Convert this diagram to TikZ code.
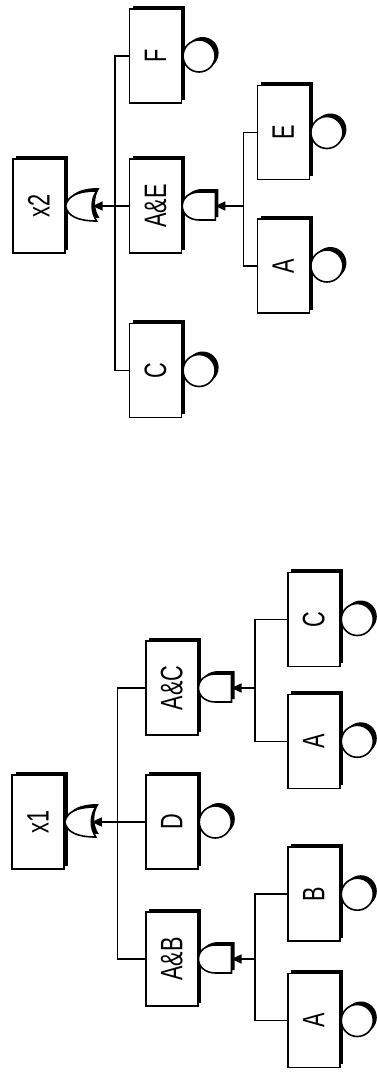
\documentclass[tikz,border=0pt]{standalone}
\usepackage{fontspec}
\setmainfont{Liberation Sans}
\usetikzlibrary{arrows.meta,shadows,calc}
\newcommand\evlabel[1]{\rotatebox{90}{\scalebox{0.7}[1]{#1}}}
\begin{document}
\begin{tikzpicture}[x=1pt,y=-1pt,
  evbox/.style={draw, fill=white, line width=1.6pt, inner sep=0pt,
    minimum width=52pt, minimum height=94pt,
    font=\fontsize{31}{34}\selectfont,
    drop shadow={shadow xshift=3.5pt, shadow yshift=3.5pt, fill=black, opacity=1}},
  basic/.style={circle, draw, fill=white, line width=1.6pt, inner sep=0pt,
    minimum size=32pt, anchor=west,
    drop shadow={shadow xshift=3.5pt, shadow yshift=3pt, fill=black, opacity=1}},
  conn/.style={line width=1.5pt},
  arr/.style={line width=1.5pt, -{Triangle[length=10pt,width=9pt]}},
  orgate/.pic={
    \fill[black, shift={(3,-3)}] (0,0) .. controls (2,-10) and (12,-15) .. (31,-15)
      .. controls (25,-6) and (25,6) .. (31,15)
      .. controls (12,15) and (2,10) .. (0,0) -- cycle;
    \filldraw[fill=white, line width=1.6pt] (0,0) .. controls (2,-10) and (12,-15) .. (31,-15)
      .. controls (25,-6) and (25,6) .. (31,15)
      .. controls (12,15) and (2,10) .. (0,0) -- cycle;
    \coordinate (-in) at (27,0);
  },
  andgate/.pic={
    \fill[black, shift={(3,-3)}] (33,-14) -- (17,-14) .. controls (7,-14) and (0,-8) .. (0,0)
      .. controls (0,8) and (7,14) .. (17,14) -- (33,14) -- cycle;
    \filldraw[fill=white, line width=1.6pt] (33,-14) -- (17,-14) .. controls (7,-14) and (0,-8) .. (0,0)
      .. controls (0,8) and (7,14) .. (17,14) -- (33,14) -- cycle;
    \coordinate (-in) at (33,0);
  }]
\useasboundingbox (0,0) rectangle (377,1072);

% ---- tree x2 ----
\node[evbox] (X2) at (38.8,206) {\evlabel{x2}};
\node[evbox] (F)  at (155.5,56) {\evlabel{F}};
\node[evbox] (AE) at (155.5,206) {\evlabel{A\&E}};
\node[evbox] (C2) at (155.5,370.5) {\evlabel{C}};
\node[evbox] (E)  at (283.3,132.5) {\evlabel{E}};
\node[evbox] (A2) at (283.3,266) {\evlabel{A}};

% ---- tree x1 ----
\node[evbox] (X1) at (38,822) {\evlabel{x1}};
\node[evbox] (AC) at (171.7,688) {\evlabel{A\&C}};
\node[evbox] (D)  at (171.7,822) {\evlabel{D}};
\node[evbox] (AB) at (171.7,959) {\evlabel{A\&B}};
\node[evbox] (C1) at (313.7,619.5) {\evlabel{C}};
\node[evbox] (A1) at (313.7,741.3) {\evlabel{A}};
\node[evbox] (B1) at (313.7,894.2) {\evlabel{B}};
\node[evbox] (A3) at (313.7,1020.5) {\evlabel{A}};

% basic events
\node[basic] (cF) at (F.east) {};
\node[basic] (cC2) at (C2.east) {};
\node[basic] (cE) at (E.east) {};
\node[basic] (cA2) at (A2.east) {};
\node[basic] (cD) at (D.east) {};
\node[basic] (cC1) at (C1.east) {};
\node[basic] (cA1) at (A1.east) {};
\node[basic] (cB1) at (B1.east) {};
\node[basic] (cA3) at (A3.east) {};

% gates
\pic (gX2) at (X2.east) {orgate};
\pic (gAE) at (AE.east) {andgate};
\pic (gX1) at (X1.east) {orgate};
\pic (gAC) at (AC.east) {andgate};
\pic (gAB) at (AB.east) {andgate};

% bus coordinates
\coordinate (j1) at (115,0);
\coordinate (j2) at (243.3,0);
\coordinate (j3) at (117.3,0);
\coordinate (j4) at (255,0);

% connectors x2
\draw[conn] (F.west) -- (F.west -| j1) -- (C2.west -| j1) -- (C2.west);
\draw[arr] (AE.west) -- (gX2-in);
\draw[conn] (E.west) -- (E.west -| j2) -- (A2.west -| j2) -- (A2.west);
\draw[arr] (gAE-in -| j2) -- (gAE-in);

% connectors x1
\draw[conn] (AC.west) -- (AC.west -| j3) -- (AB.west -| j3) -- (AB.west);
\draw[arr] (D.west) -- (gX1-in);
\draw[conn] (C1.west) -- (C1.west -| j4) -- (A1.west -| j4) -- (A1.west);
\draw[arr] (gAC-in -| j4) -- (gAC-in);
\draw[conn] (B1.west) -- (B1.west -| j4) -- (A3.west -| j4) -- (A3.west);
\draw[arr] (gAB-in -| j4) -- (gAB-in);
\end{tikzpicture}
\end{document}
